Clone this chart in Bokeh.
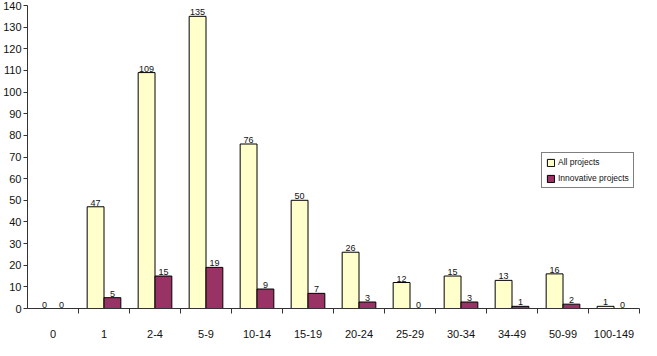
import numpy as np
from bokeh.plotting import figure
from bokeh.models import FixedTicker, ColumnDataSource, Legend, LegendItem
from bokeh.core.properties import value
from bokeh.embed import file_html
from bokeh.resources import INLINE

categories = ["0", "1", "2-4", "5-9", "10-14", "15-19", "20-24", "25-29",
              "30-34", "34-49", "50-99", "100-149"]
all_projects = [0, 47, 109, 135, 76, 50, 26, 12, 15, 13, 16, 1]
innovative_projects = [0, 5, 15, 19, 9, 7, 3, 0, 3, 1, 2, 0]
y_ticks = list(range(0, 141, 10))

FONT = "Liberation Sans"
n = len(categories)
centers = np.arange(n) + 0.5

p = figure(width=641, height=340, output_backend="svg", toolbar_location=None,
           x_range=(0, n), y_range=(0, 140),
           min_border_left=24, min_border_right=2, min_border_top=5, min_border_bottom=27)
p.outline_line_color = None
p.xgrid.grid_line_color = None
p.ygrid.grid_line_color = None
p.background_fill_color = "white"

src_a = ColumnDataSource(dict(x=centers - 0.165, top=all_projects,
                              lab=[str(v) for v in all_projects]))
src_i = ColumnDataSource(dict(x=centers + 0.165, top=innovative_projects,
                              lab=[str(v) for v in innovative_projects]))

ra = p.vbar(x="x", top="top", width=0.33, source=src_a, fill_color="#FFFFCC",
            line_color="black", line_width=1)
ri = p.vbar(x="x", top="top", width=0.33, source=src_i, fill_color="#993366",
            line_color="black", line_width=1)

for src in (src_a, src_i):
    p.text(x="x", y="top", text="lab", source=src, text_align="center",
           text_baseline="bottom", text_font_size="9px", text_font=value(FONT),
           text_color="#111111", y_offset=-1)

# axes
p.xaxis.ticker = FixedTicker(ticks=list(centers), minor_ticks=list(range(1, n + 1)))
p.xaxis.major_label_overrides = {float(c): lab for c, lab in zip(centers, categories)}
p.xaxis.major_tick_line_color = None
p.xaxis.major_tick_out = 0
p.xaxis.major_tick_in = 0
p.xaxis.minor_tick_out = 5
p.xaxis.minor_tick_in = 0
p.xaxis.minor_tick_line_color = "#333333"
p.xaxis.major_label_standoff = 16
p.xaxis.axis_line_color = "#333333"

p.yaxis.ticker = FixedTicker(ticks=y_ticks)
p.yaxis.minor_tick_line_color = None
p.yaxis.major_tick_out = 4
p.yaxis.major_tick_in = 0
p.yaxis.major_label_standoff = 2
p.yaxis.axis_line_color = "#333333"
p.yaxis.major_tick_line_color = "#333333"

for ax in (p.xaxis, p.yaxis):
    ax.major_label_text_font = FONT
    ax.major_label_text_font_size = "11px"
    ax.major_label_text_color = "#111111"

legend = Legend(items=[LegendItem(label="All projects", renderers=[ra]),
                       LegendItem(label="Innovative projects", renderers=[ri])],
                location=(514, 120))
legend.label_text_font = FONT
legend.label_text_font_size = "8.5px"
legend.label_text_color = "#111111"
legend.glyph_width = 9
legend.glyph_height = 9
legend.label_height = 9
legend.label_standoff = 3
legend.padding = 4
legend.spacing = 6
legend.margin = 0
legend.border_line_color = "black"
legend.border_line_width = 1
legend.background_fill_alpha = 1
p.add_layout(legend)

open("out.html", "w").write(file_html(p, INLINE))
